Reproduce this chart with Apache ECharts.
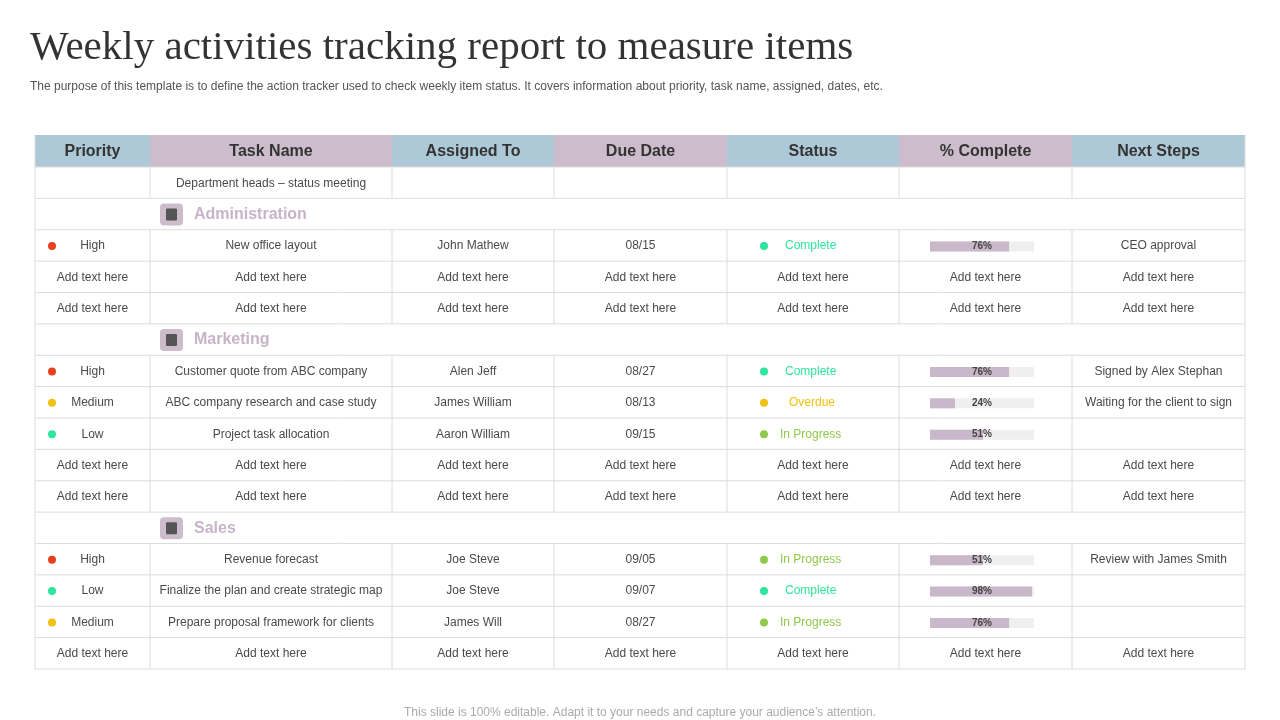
<!DOCTYPE html>
<html><head><meta charset="utf-8">
<script src="https://cdn.jsdelivr.net/npm/echarts@6/dist/echarts.min.js"></script>
<style>html,body{margin:0;background:#fff}#c{width:1280px;height:720px}</style></head>
<body><div id="c"></div>
<script>
const headers = ['Priority','Task Name','Assigned To','Due Date','Status','% Complete','Next Steps'];
const A = 'Add text here';
const priorities = ['', null, 'High', A, A, null, 'High', 'Medium', 'Low', A, A, null, 'High', 'Low', 'Medium', A];
const tasks = ['Department heads – status meeting', 'Administration', 'New office layout', A, A, 'Marketing', 'Customer quote from ABC company', 'ABC company research and case study', 'Project task allocation', A, A, 'Sales', 'Revenue forecast', 'Finalize the plan and create strategic map', 'Prepare proposal framework for clients', A];
const assigned = ['', null, 'John Mathew', A, A, null, 'Alen Jeff', 'James William', 'Aaron William', A, A, null, 'Joe Steve', 'Joe Steve', 'James Will', A];
const dueDates = ['', null, '08/15', A, A, null, '08/27', '08/13', '09/15', A, A, null, '09/05', '09/07', '08/27', A];
const statuses = ['', null, 'Complete', A, A, null, 'Complete', 'Overdue', 'In Progress', A, A, null, 'In Progress', 'Complete', 'In Progress', A];
const complete = [null, null, 76, A, A, null, 76, 24, 51, A, A, null, 51, 98, 76, A];
const nextSteps = ['', null, 'CEO approval', A, A, null, 'Signed by Alex Stephan', 'Waiting for the client to sign', '', A, A, null, 'Review with James Smith', '', '', A];
const rowIds = tasks.map((t,i)=>'r'+i);

const cols = [35,150,392,554,727,899,1072,1245];
const top0 = 135, headH = 32, bodyTop = 167, bodyBot = 669, nRows = 16;
const rowH = (bodyBot-bodyTop)/nRows;
const prioColor = {High:'#e8401c', Medium:'#f2c00f', Low:'#2ee59d'};
const statColor = {'Complete':'#2ee59d','Overdue':'#f2c00f','In Progress':'#8fc94a'};
const font = '"Liberation Sans", Arial, sans-serif';
const g = [];
for (let c=0;c<7;c++){
  g.push({type:'rect',shape:{x:cols[c],y:top0,width:cols[c+1]-cols[c],height:headH},style:{fill:c%2===0?'#adc8d6':'#cdbccb'}});
  g.push({type:'text',x:(cols[c]+cols[c+1])/2,y:top0+headH/2+1,style:{text:headers[c],fill:'#333',font:'bold 16px '+font,align:'center',verticalAlign:'middle'}});
}
const lc='#dcdcdc';
for (let r=0;r<=nRows;r++){
  const y=bodyTop+r*rowH;
  g.push({type:'line',shape:{x1:cols[0],y1:y,x2:cols[7],y2:y},style:{stroke:lc,lineWidth:1}});
}
g.push({type:'line',shape:{x1:cols[0],y1:top0,x2:cols[0],y2:bodyBot},style:{stroke:lc}});
g.push({type:'line',shape:{x1:cols[7],y1:top0,x2:cols[7],y2:bodyBot},style:{stroke:lc}});
for (let r=0;r<nRows;r++){
  const y0=bodyTop+r*rowH, cy=y0+rowH/2+0.5;
  const section = priorities[r]===null;
  if (!section) for (let c=1;c<7;c++) g.push({type:'line',shape:{x1:cols[c],y1:y0,x2:cols[c],y2:y0+rowH},style:{stroke:lc}});
  if (section){
    g.push({type:'rect',shape:{x:160,y:cy-11,width:23,height:22,r:4},style:{fill:'#cdbccb'}});
    g.push({type:'rect',shape:{x:166,y:cy-6,width:11,height:12,r:1},style:{fill:'#555'}});
    g.push({type:'text',x:194,y:cy,style:{text:tasks[r],fill:'#c8b4c8',font:'bold 16px '+font,verticalAlign:'middle'}});
    continue;
  }
  const t = (c,s,fill)=>g.push({type:'text',x:(cols[c]+cols[c+1])/2,y:cy,style:{text:s,fill:fill||'#4a4a4a',font:'12px '+font,align:'center',verticalAlign:'middle'}});
  const p=priorities[r];
  if (prioColor[p]) g.push({type:'circle',shape:{cx:52,cy:cy,r:4},style:{fill:prioColor[p]}});
  t(0,p);
  t(1,tasks[r]); t(2,assigned[r]); t(3,dueDates[r]);
  const s=statuses[r];
  if (statColor[s]){ g.push({type:'circle',shape:{cx:764,cy:cy,r:4},style:{fill:statColor[s]}}); g.push({type:'text',x:s==='Complete'?785:(s==='Overdue'?789:780),y:cy,style:{text:s,fill:statColor[s],font:'12px '+font,verticalAlign:'middle'}}); }
  else t(4,s);
  if (typeof complete[r]!=='number') t(5,complete[r]||'');
  t(6,nextSteps[r]);
}
g.push({type:'text',x:30,y:48,style:{text:'Weekly activities tracking report to measure items',fill:'#333',font:'41px "Liberation Serif", serif',verticalAlign:'middle'}});
g.push({type:'text',x:30,y:87,style:{text:'The purpose of this template is to define the action tracker used to check weekly item status. It covers information about priority, task name, assigned, dates, etc.',fill:'#555',font:'12px '+font,verticalAlign:'middle'}});
g.push({type:'text',x:640,y:713,style:{text:'This slide is 100% editable. Adapt it to your needs and capture your audience\u2019s attention.',fill:'#aaa',font:'12px '+font,align:'center',verticalAlign:'middle'}});

const barVals = complete.map(v=>typeof v==='number'?v:null);
const chart = echarts.init(document.getElementById('c'));
chart.setOption({
  animation:false,
  graphic:{elements:g},
  grid:{left:930,width:104,top:bodyTop+1,height:bodyBot-bodyTop},
  xAxis:{type:'value',min:0,max:100,show:false},
  yAxis:{type:'category',data:rowIds,inverse:true,show:false},
  series:[
    {type:'bar',data:barVals.map(v=>v===null?null:100),barWidth:10,itemStyle:{color:'#efefef'},z:1},
    {type:'bar',data:barVals,barWidth:10,barGap:'-100%',itemStyle:{color:'#c9b8c9'},z:2},
    {type:'bar',data:barVals.map(v=>v===null?null:{value:100,label:{formatter:v+'%'}}),barWidth:10,barGap:'-100%',itemStyle:{color:'rgba(0,0,0,0)'},z:3,
     label:{show:true,position:'inside',color:'#444',fontSize:10,fontWeight:'bold',fontFamily:'Liberation Sans'}}
  ]
});
</script></body></html>
